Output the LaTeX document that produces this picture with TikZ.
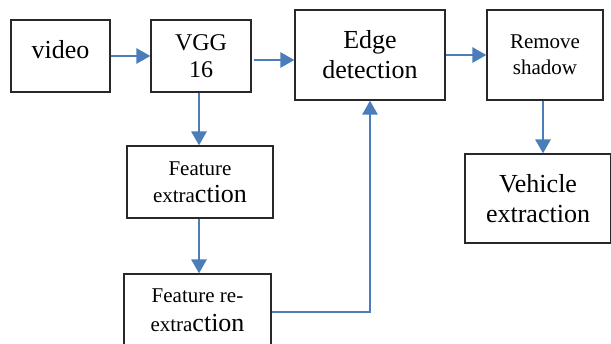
\documentclass[tikz,border=0pt]{standalone}
\usepackage{fontspec}
\setmainfont{Liberation Serif}
\usetikzlibrary{arrows.meta}
\definecolor{arrowblue}{RGB}{74,126,187}
\definecolor{boxline}{RGB}{40,40,40}
\tikzset{
    box/.style={draw=boxline, line width=1.2pt, align=center, inner sep=0pt},
    arr/.style={draw=arrowblue, line width=2.8pt, -{Triangle[length=14pt,width=15pt]}},
}
\newcommand{\fs}[1]{\fontsize{#1}{#1}\selectfont}
\begin{document}
\begin{tikzpicture}[x=1pt, y=-1pt]
    \useasboundingbox (0,0) rectangle (611,344);

    \node[box, minimum width=99pt, minimum height=72pt, font=\fs{26}, text depth=14pt] (video) at (60.5,56) {video};
    \node[box, minimum width=100pt, minimum height=72pt, font=\fs{24}] (vgg) at (201,56) {VGG\\[3pt]16};
    \node[box, minimum width=150pt, minimum height=90pt, font=\fs{26}] (edge) at (370,55) {Edge\\[4pt]detection};
    \node[box, minimum width=116pt, minimum height=90pt, font=\fs{21}] (shadow) at (545,55) {Remove\\[5pt]shadow};
    \node[box, minimum width=146pt, minimum height=72pt] (featext) at (200,182)
        {\fs{21}Feature\\[9pt]{\fs{21}extra}{\fs{26}ction}};
    \node[box, minimum width=147pt, minimum height=76pt, text depth=4pt] (refeat) at (197.5,312)
        {\fs{21}Feature re-\\[10pt]{\fs{21}extra}{\fs{26}ction}};
    \node[box, minimum width=146pt, minimum height=89pt, font=\fs{26}] (vehicle) at (538,198.5) {Vehicle\\[4pt]extraction};

    \draw[arr] (video) -- (vgg);
    \draw[arr] ([xshift=2pt,yshift=-4pt]vgg.east) -- ([yshift=-4pt]vgg.east -| edge.west);
    \draw[arr] (edge) -- (shadow);
    \draw[arr] ([xshift=-2pt]vgg.south) -- ([xshift=-2pt]vgg.south |- featext.north);
    \draw[arr] ([xshift=-1pt]featext.south) -- ([xshift=-1pt]featext.south |- refeat.north);
    \draw[arr] (refeat.east) -| (edge.south);
    \draw[arr] ([xshift=-2pt]shadow.south) -- ([xshift=-2pt]shadow.south |- vehicle.north);
\end{tikzpicture}
\end{document}
